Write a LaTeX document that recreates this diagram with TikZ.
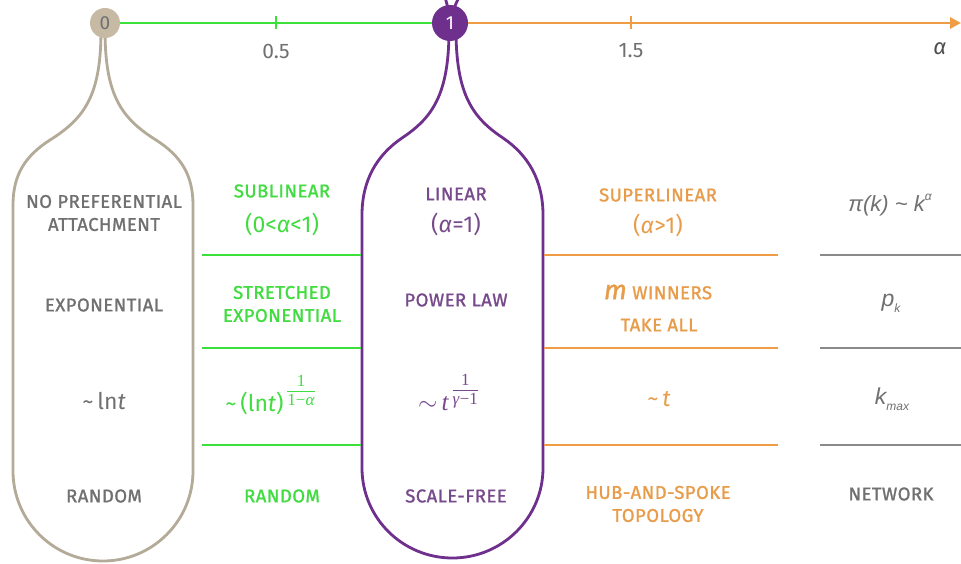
\documentclass[tikz,border=0pt]{standalone}
\usepackage{fontspec}
\setmainfont{Fira Sans}
\newfontfamily\capsfont{Fira Sans}[LetterSpace=2.5, FakeBold=1.3]
\newfontfamily\libsans{Liberation Sans}
\newfontfamily\libserif{Liberation Serif}
\usetikzlibrary{arrows.meta}
\definecolor{taupe}{HTML}{B3AA98}
\definecolor{taupefill}{HTML}{C6BAA5}
\definecolor{tgray}{HTML}{707070}
\definecolor{lgray}{HTML}{8A8A8A}
\definecolor{grn}{HTML}{3BE03B}
\definecolor{grntxt}{HTML}{40DC40}
\definecolor{purp}{HTML}{6E2F8D}
\definecolor{purptxt}{HTML}{774A8C}
\definecolor{orng}{HTML}{EF9C45}
\definecolor{orngtxt}{HTML}{E89C4A}
\newcommand\fracstack[2]{{\libserif\fontsize{17}{16}\selectfont\setlength\arrayrulewidth{0.9pt}\setlength\tabcolsep{0pt}\renewcommand\arraystretch{1.0}\begin{tabular}[b]{c}#1\\[0pt]\hline\noalign{\vskip 2pt}#2\end{tabular}}}
\begin{document}
\begin{tikzpicture}[x=1pt,y=-1pt,
  lab/.style={inner sep=0pt, align=center, font=\capsfont\fontsize{18.5}{23}\selectfont},
  big/.style={inner sep=0pt, align=center, font=\fontsize{23}{28}\selectfont},
  axl/.style={inner sep=0pt, font=\fontsize{21}{24}\selectfont, text=tgray},
  sepline/.style={line width=2.8pt},
  outl/.style={line width=2.8pt, line join=round},
  dot/.style={circle, inner sep=0pt, font=\fontsize{19}{20}\selectfont}]
\useasboundingbox (0,0) rectangle (961,564);
\fill[white] (0,0) rectangle (961,564);

% gray bottle
\draw[outl, taupe] (101,30) .. controls (101,95) and (85,118) .. (50,140)
  .. controls (25,156) and (13,175) .. (13,205) -- (13,471)
  .. controls (13,520.7) and (53.3,561) .. (103,561)
  .. controls (152.7,561) and (193,520.7) .. (193,471) -- (193,205)
  .. controls (193,175) and (181,156) .. (156,140)
  .. controls (121,118) and (105,95) .. (105,30);

% purple bottle
\draw[outl, purp] (449,30) .. controls (449,95) and (432,118) .. (402,138)
  .. controls (377,155) and (362,180) .. (362,215) -- (362,468)
  .. controls (362,517.7) and (402.3,558) .. (452.5,558)
  .. controls (502.2,558) and (543,517.7) .. (543,468) -- (543,215)
  .. controls (543,180) and (528,155) .. (503,138)
  .. controls (473,118) and (456,95) .. (456,30);
\draw[outl, purp] (449,15) .. controls (448,8) .. (445,-3);
\draw[outl, purp] (452,15) .. controls (454,8) .. (459,-3);

% axis
\node[dot, fill=taupefill, minimum size=30pt, text=tgray] (c0) at (105,23) {0};
\node[dot, fill=purp, minimum size=36pt, text=white] (c1) at (450,23) {1};
\coordinate (axend) at (961,23);
\draw[grn, line width=2.8pt] (c0) -- (c1);
\draw[orng, line width=2.8pt, -{Triangle[length=11pt,width=11pt]}] (c1) -- (axend);
\draw[grn, line width=2.2pt] (276,16) -- (276,29);
\draw[orng, line width=2.2pt] (631,16) -- (631,29);
\node[axl] (t05) at (276,51) {0.5};
\node[axl] (t15) at (631,51) {1.5};
\node[axl, font=\fontsize{22}{24}\selectfont\itshape, text=black!70] (alph) at (940,49) {α};

% separators
\foreach \yy in {255,348,445} {
  \draw[sepline, grn] (202,\yy) -- (361,\yy);
  \draw[sepline, orng] (544,\yy) -- (778,\yy);
  \draw[sepline, lgray] (820,\yy) -- (961,\yy);
}

% column 1 (gray)
\node[lab, text=tgray] (np) at (104,213) {NO PREFERENTIAL\\ATTACHMENT};
\node[lab, text=tgray] (ex) at (104,305) {EXPONENTIAL};
\node[big, text=tgray] (lnt) at (104,401) {\textasciitilde\,ln\textit{t}};
\node[lab, text=tgray] (rnd) at (104,496) {RANDOM};

% column 2 (green)
\node[big, text=grntxt] (sub) at (282,191) {\capsfont\fontsize{18.5}{23}\selectfont SUBLINEAR};
\node[big, font=\fontsize{23}{26}\selectfont, text=grntxt] (subp) at (282,224) {(0<\textit{α}<1)};
\node[lab, text=grntxt] (str) at (282,304) {STRETCHED\\EXPONENTIAL};
\node[big, text=grntxt, anchor=base] (lnt2) at (270,411) {\textasciitilde\,(ln\textit{t})\,\raisebox{6pt}{\fracstack{1}{1−\textit{α}}}};
\node[lab, text=grntxt] (rnd2) at (282,496) {RANDOM};

% column 3 (purple)
\node[lab, text=purptxt] (lin) at (456,194) {LINEAR};
\node[big, font=\fontsize{23}{26}\selectfont, text=purptxt] (linp) at (456,224) {(\textit{α}=1)};
\node[lab, text=purptxt] (pl) at (456,300) {POWER LAW};
\node[big, font=\fontsize{25}{28}\selectfont, text=purptxt, anchor=base] (tg) at (448,410) {$\sim$\,{\libserif\itshape t}\,\raisebox{6pt}{\fracstack{1}{\textit{γ}−1}}};
\node[lab, text=purptxt] (sf) at (456,496) {SCALE-FREE};

% column 4 (orange)
\node[lab, text=orngtxt] (sup) at (658,195) {SUPERLINEAR};
\node[big, font=\fontsize{23}{26}\selectfont, text=orngtxt] (supp) at (658,225) {(\textit{α}>1)};
\node[lab, text=orngtxt] (mw) at (658,292) {{\fontsize{27}{27}\selectfont\itshape m} WINNERS};
\node[lab, text=orngtxt] (ta) at (659,325) {TAKE ALL};
\node[big, text=orngtxt] (tt) at (659,399) {\textasciitilde\,\textit{t}};
\node[lab, text=orngtxt] (hub) at (658,504) {HUB-AND-SPOKE\\TOPOLOGY};

% column 5 (gray)
\node[inner sep=0pt, font=\libsans\itshape\fontsize{22}{24}\selectfont, text=tgray] (pik) at (890,205) {π(k) \textasciitilde{} k\raisebox{0.9ex}{\fontsize{12}{12}\selectfont α}};
\node[inner sep=0pt, font=\libsans\itshape\fontsize{23}{24}\selectfont, text=tgray] (pk) at (891,303) {p\raisebox{-0.5ex}{\fontsize{12}{12}\selectfont k}};
\node[inner sep=0pt, font=\libsans\itshape\fontsize{23}{24}\selectfont, text=tgray] (km) at (892,399) {k\raisebox{-0.5ex}{\fontsize{12}{12}\selectfont max}};
\node[lab, text=tgray] (net) at (891,494) {NETWORK};
\end{tikzpicture}
\end{document}
